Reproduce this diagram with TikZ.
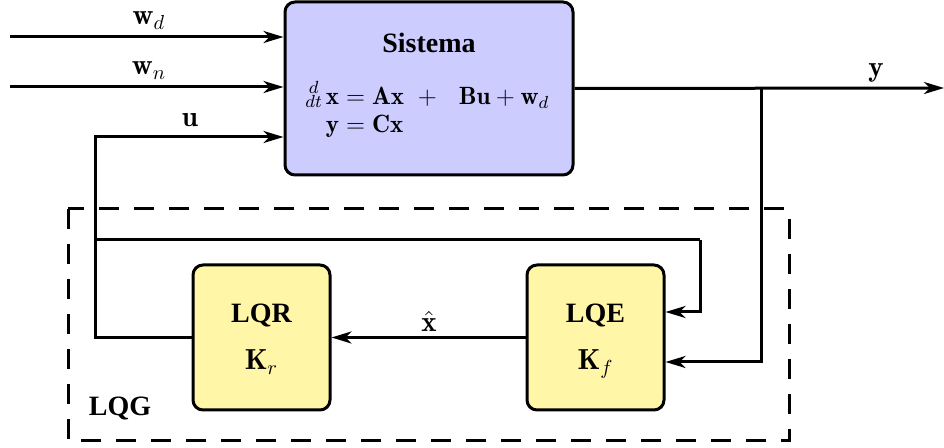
\RequirePackage{fix-cm}
\documentclass[tikz,border=0pt]{standalone}
\usepackage{amsmath}
\usepackage{fontspec}
\newfontfamily\tms{Liberation Serif}
\usetikzlibrary{arrows.meta}
\definecolor{sysfill}{RGB}{204,204,255}
\definecolor{ctlfill}{RGB}{255,246,168}
% small stacked d/dt without a fraction bar
\newcommand\ddtop{\mathord{\ooalign{%
  \hfil\raisebox{5.6pt}{\fontsize{8.8}{9}\selectfont$d$}\hfil\cr
  \raisebox{-1.4pt}{\fontsize{8.8}{9}\selectfont$dt$}\cr}}}
\tikzset{
  blk/.style={draw=black, line width=1.5pt, rounded corners=5pt},
  sysblk/.style={blk, fill=sysfill, minimum width=144pt, minimum height=86.5pt},
  ctlblk/.style={blk, fill=ctlfill, minimum width=68.5pt, minimum height=72.5pt},
  wire/.style={line width=1.5pt},
  arr/.style={wire, -{Stealth[length=10pt, width=6pt, inset=3pt]}},
  ttl/.style={font=\fontsize{14}{17}\selectfont\tms\bfseries, inner sep=0pt, anchor=base},
  mth/.style={font=\fontsize{14.5}{17}\selectfont, inner sep=0pt, anchor=base},
  eqn/.style={font=\fontsize{12.5}{15}\selectfont, inner sep=0pt, anchor=base west},
  gain/.style={font=\fontsize{14.5}{17}\selectfont, inner sep=0pt, anchor=base},
  lqg/.style={draw=black, line width=1.5pt, dash pattern=on 10pt off 7.5pt}
}
\begin{document}
\begin{tikzpicture}[x=0.5pt, y=-0.5pt]
\useasboundingbox (0,0) rectangle (944,448);

% LQG frame
\draw[lqg] (68,209) rectangle (789,441);
\node[ttl] (lqgtxt) at (120,416) {LQG};

% blocks
\node[sysblk] (sys) at (429,88.5) {};
\node[ctlblk] (lqr) at (261.5,337.5) {};
\node[ctlblk] (lqe) at (595.5,337.5) {};

% block texts
\node[ttl] (systxt) at (429,53) {Sistema};
\node[eqn] (eq1) at (305,105)
  {$\ddtop\,\mathbf{x} = \mathbf{A}\mathbf{x}\ +\ \ \mathbf{B}\mathbf{u} + \mathbf{w}_d$};
\node[eqn] (eq2) at (305,133)
  {$\hphantom{\ddtop\,}\mathbf{y} = \mathbf{C}\mathbf{x}$};
\node[ttl] (lqrtxt) at (261.5,323) {LQR};
\node[gain] (lqrk) at (261.5,370) {$\mathbf{K}_r$};
\node[ttl] (lqetxt) at (595.5,323) {LQE};
\node[gain] (lqek) at (595.5,370) {$\mathbf{K}_f$};

% inputs
\coordinate (wdin) at (10,37);
\coordinate (wnin) at (10,87);
\draw[arr] (wdin) -- (sys.west |- wdin);
\draw[arr] (wnin) -- (sys.west |- wnin);
\node[mth] (wdlbl) at (149,25) {$\mathbf{w}_d$};
\node[mth] (wnlbl) at (149,75) {$\mathbf{w}_n$};

% control signal u
\coordinate (ucorner) at (95,137);
\coordinate (utap) at (95,240);
\draw[arr] (lqr.west) -| (ucorner) -- (sys.west |- ucorner);
\node[mth] (ulbl) at (190,127) {$\mathbf{u}$};

% u fed to the estimator
\coordinate (ufeed) at (700,240);
\coordinate (ufeedin) at (700,312);
\draw[wire] (utap) -- (ufeed);
\draw[arr] (ufeed) -- (ufeedin) -- (lqe.east |- ufeedin);

% output y
\coordinate (yout) at (944,88);
\coordinate (ytap) at (761,88);
\coordinate (yfeedin) at (761,362);
\draw[arr] (sys.east) -- (yout);
\draw[arr] (ytap) -- (yfeedin) -- (lqe.east |- yfeedin);
\node[mth] (ylbl) at (876,77) {$\mathbf{y}$};

% state estimate
\draw[arr] (lqe.west) -- (lqr.east);
\node[mth] (xhat) at (429,332) {$\hat{\mathbf{x}}$};
\end{tikzpicture}
\end{document}
